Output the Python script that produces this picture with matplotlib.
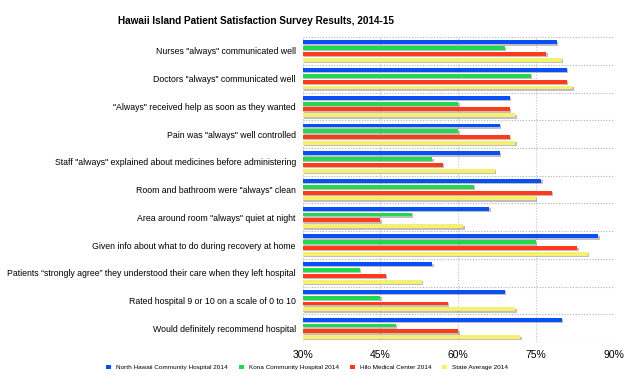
import numpy as np
import matplotlib.pyplot as plt
import matplotlib.patheffects as pe

plt.rcParams['font.family'] = ['Liberation Sans', 'DejaVu Sans']

categories = ['Nurses "always" communicated well',
              'Doctors "always" communicated well',
              '"Always" received help as soon as they wanted',
              'Pain was "always" well controlled',
              'Staff "always" explained about medicines before administering',
              'Room and bathroom were "always" clean',
              'Area around room "always" quiet at night',
              'Given info about what to do during recovery at home',
              'Patients \u201cstrongly agree\u201d they understood their care when they left hospital',
              'Rated hospital 9 or 10 on a scale of 0 to 10',
              'Would definitely recommend hospital']
north_hawaii = [79, 81, 70, 68, 68, 76, 66, 87, 55, 69, 80]
kona = [69, 74, 60, 60, 55, 63, 51, 75, 41, 45, 48]
hilo = [77, 81, 70, 70, 57, 78, 45, 83, 46, 58, 60]
state_avg = [80, 82, 71, 71, 67, 75, 61, 85, 53, 71, 72]
series_names = ['North Hawaii Community Hospital 2014', 'Kona Community Hospital 2014',
                'Hilo Medical Center 2014', 'State Average 2014']
colors = ['#0A4EF5', '#22D84E', '#FF3B1C', '#F6F06E']
ticks = [30, 45, 60, 75, 90]

fig = plt.figure(figsize=(6.4, 3.78), dpi=100)
ax = fig.add_axes([0.473, 0.095, 0.486, 0.807])

y = np.arange(len(categories))
offsets = [-0.31, -0.1, 0.11, 0.32]
shadow = [pe.SimplePatchShadow(offset=(1, -1), shadow_rgbFace='gray', alpha=0.5), pe.Normal()]
for vals, off, c, name in zip([north_hawaii, kona, hilo, state_avg], offsets, colors, series_names):
    bars = ax.barh(y + off, np.array(vals) - 30, left=30, height=0.14, color=c, label=name, zorder=3)
    for b in bars:
        b.set_path_effects(shadow)

ax.set_xlim(30, 90)
ax.set_ylim(len(categories) - 0.5, -0.5)
ax.set_xticks(ticks)
ax.set_xticklabels([f'{t}%' for t in ticks], fontsize=7.5)
ax.set_yticks(y)
ax.set_yticklabels(categories, fontsize=6.35)
ax.tick_params(length=0, pad=5)
ax.tick_params(axis='x', pad=6)

for t in ticks:
    ax.axvline(t, color='#c0c0c0', ls=(0, (1, 1.5)), lw=0.8, zorder=1)
for b in np.arange(len(categories) + 1) - 0.5:
    ax.axhline(b, color='#b0b0b0', ls=(0, (1, 1.5)), lw=0.8, zorder=1)
for s in ax.spines.values():
    s.set_visible(False)

fig.text(0.40, 0.945, 'Hawaii Island Patient Satisfaction Survey Results, 2014-15',
         ha='center', va='center', fontsize=7.2, fontweight='bold')

leg = fig.legend(loc='center', bbox_to_anchor=(0.48, 0.028), ncol=4, frameon=False, fontsize=4.6,
                 handlelength=0.8, handleheight=0.8, columnspacing=1.7, handletextpad=0.8)
for h in leg.legend_handles:
    h.set_path_effects([])

fig.savefig('out.png', dpi=100)
